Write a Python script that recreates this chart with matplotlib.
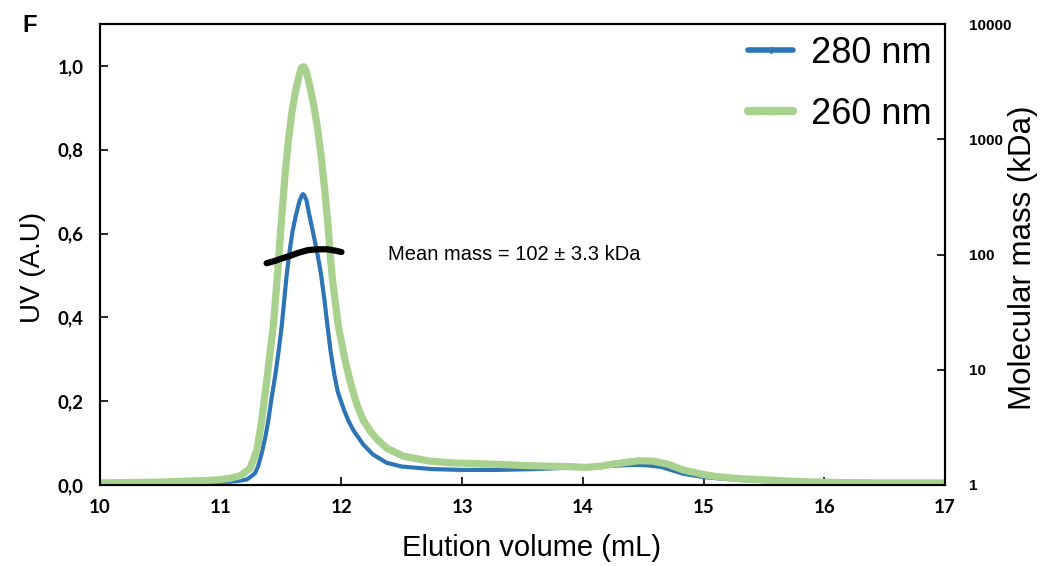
import matplotlib
matplotlib.use("Agg")
import matplotlib.pyplot as plt
from matplotlib.lines import Line2D
from matplotlib.ticker import FixedLocator, FuncFormatter, NullLocator

# ---- data ----
vol_280 = [10.0, 10.5, 10.9, 11.08, 11.15, 11.215, 11.25, 11.284, 11.31, 11.34, 11.37,
           11.395, 11.42, 11.45, 11.48, 11.505, 11.546, 11.568, 11.595, 11.62, 11.65,
           11.67, 11.68, 11.69, 11.71, 11.73, 11.767, 11.80, 11.83, 11.86, 11.885,
           11.91, 11.94, 11.97, 12.02, 12.06, 12.10, 12.18, 12.26, 12.375, 12.5, 12.75,
           13.0, 13.3, 13.6, 13.87, 14.03, 14.25, 14.42, 14.53, 14.65, 14.83, 15.0,
           15.11, 15.3, 15.52, 15.8, 16.0, 16.5, 17.0]
uv_280 = [0.003, 0.004, 0.006, 0.008, 0.010, 0.013, 0.020, 0.028, 0.045, 0.076, 0.115,
          0.155, 0.205, 0.258, 0.320, 0.378, 0.500, 0.553, 0.605, 0.640, 0.675,
          0.690, 0.694, 0.692, 0.680, 0.650, 0.600, 0.553, 0.505, 0.440, 0.378,
          0.320, 0.265, 0.222, 0.180, 0.152, 0.130, 0.097, 0.073, 0.053, 0.044, 0.038,
          0.036, 0.036, 0.038, 0.041, 0.044, 0.046, 0.048, 0.047, 0.043, 0.027, 0.019,
          0.016, 0.012, 0.009, 0.006, 0.005, 0.004, 0.003]

vol_260 = [10.0, 10.5, 10.9, 11.0, 11.08, 11.16, 11.2, 11.243, 11.27, 11.30, 11.34,
           11.385, 11.435, 11.47, 11.50, 11.53, 11.56, 11.59, 11.62, 11.65, 11.67,
           11.69, 11.71, 11.73, 11.754, 11.78, 11.80, 11.836, 11.864, 11.89, 11.91,
           11.93, 11.975, 12.03, 12.07, 12.10, 12.13, 12.18, 12.24, 12.30, 12.375, 12.51,
           12.73, 12.9, 13.01, 13.31, 13.56, 13.87, 14.03, 14.15, 14.25, 14.47, 14.58,
           14.7, 14.83, 15.0, 15.11, 15.3, 15.52, 15.8, 16.07, 16.5, 17.0]
uv_260 = [0.005, 0.007, 0.011, 0.013, 0.016, 0.022, 0.030, 0.040, 0.060, 0.084, 0.155,
          0.258, 0.378, 0.500, 0.620, 0.730, 0.820, 0.890, 0.940, 0.978, 0.996,
          0.998, 0.985, 0.962, 0.930, 0.890, 0.855, 0.776, 0.696, 0.616, 0.537,
          0.480, 0.378, 0.298, 0.250, 0.219, 0.190, 0.155, 0.128, 0.108, 0.088, 0.069,
          0.057, 0.053, 0.052, 0.049, 0.046, 0.044, 0.042, 0.045, 0.050, 0.058, 0.057,
          0.050, 0.036, 0.025, 0.020, 0.015, 0.012, 0.008, 0.006, 0.005, 0.005]

mass_vol = [11.38, 11.45, 11.50, 11.57, 11.65, 11.72, 11.80, 11.88, 11.95, 12.00]
mass_kda = [84, 88, 92, 97, 104, 109, 111, 111, 108, 105]

x_ticks = [10, 11, 12, 13, 14, 15, 16, 17]
uv_ticks = [0.0, 0.2, 0.4, 0.6, 0.8, 1.0]
mass_ticks = [1, 10, 100, 1000, 10000]

series_labels = ["280 nm", "260 nm"]
blue = "#2e75b6"
green = "#a9d18e"

W, H = 1040, 566
fig = plt.figure(figsize=(W / 100, H / 100), dpi=100)
ax = fig.add_axes([100 / W, 81 / H, 845 / W, 461 / H])

ax.plot(vol_280, uv_280, color=blue, lw=3.0, solid_joinstyle="round", solid_capstyle="round", zorder=3)
ax.plot(vol_260, uv_260, color=green, lw=5.2, solid_joinstyle="round", solid_capstyle="round", zorder=4)

ax.set_xlim(10, 17)
ax.set_ylim(0, 1.1)
ax.xaxis.set_major_locator(FixedLocator(x_ticks))
ax.yaxis.set_major_locator(FixedLocator(uv_ticks))
ax.yaxis.set_major_formatter(FuncFormatter(lambda v, p: f"{v:.1f}".replace(".", ",")))
ax.tick_params(axis="both", direction="in", length=6, width=1.2, pad=12)
ax.tick_params(axis="x", pad=10)
for lab in ax.get_xticklabels() + ax.get_yticklabels():
    lab.set_fontfamily("Lato")
    lab.set_fontweight("bold")
    lab.set_fontsize(13.5)
for s in ax.spines.values():
    s.set_linewidth(1.5)

fig.text(531 / W, 1 - 548 / H, "Elution volume (mL)", fontsize=21, family="Liberation Sans",
         ha="center", va="center")
fig.text(33 / W, 1 - 267 / H, "UV (A.U)", fontsize=20, family="Liberation Sans",
         ha="center", va="center", rotation=90)

ax2 = ax.twinx()
ax2.set_yscale("log")
ax2.set_ylim(1, 10000)
ax2.plot(mass_vol, mass_kda, color="black", lw=4.5, solid_capstyle="round", solid_joinstyle="round", zorder=5)
ax2.yaxis.set_major_locator(FixedLocator(mass_ticks))
ax2.yaxis.set_minor_locator(NullLocator())
ax2.yaxis.set_major_formatter(FuncFormatter(lambda v, p: f"{int(round(v))}"))
ax2.tick_params(axis="y", direction="in", length=6, width=1.2, pad=17)
for lab in ax2.get_yticklabels():
    lab.set_fontfamily("Liberation Sans")
    lab.set_fontweight("bold")
    lab.set_fontsize(11)
for s in ax2.spines.values():
    s.set_linewidth(1.5)
fig.text(1023 / W, 1 - 258 / H, "Molecular mass (kDa)", fontsize=22.5, family="Liberation Sans",
         ha="center", va="center", rotation=90)

fig.text(388 / W, 1 - 254 / H, "Mean mass = 102 \u00b1 3.3 kDa",
         fontsize=14.5, family="Liberation Sans", va="center", ha="left")

fig.text(22 / W, 1 - 25 / H, "F", fontsize=17, fontweight="bold", family="Liberation Sans",
         va="center", ha="left")

handles = [
    Line2D([], [], color=blue, lw=4, marker="D", markersize=3, solid_capstyle="round"),
    Line2D([], [], color=green, lw=6, marker="s", markersize=5, solid_capstyle="round"),
]
leg = ax2.legend(handles, series_labels, loc="upper right",
                 bbox_to_anchor=(932 / W, 1 - 36 / H), bbox_transform=fig.transFigure,
                 frameon=False, prop={"family": "Liberation Sans", "size": 26},
                 handlelength=1.25, handletextpad=0.5, labelspacing=0.72, borderpad=0,
                 borderaxespad=0)

fig.savefig("out.png", dpi=100)
